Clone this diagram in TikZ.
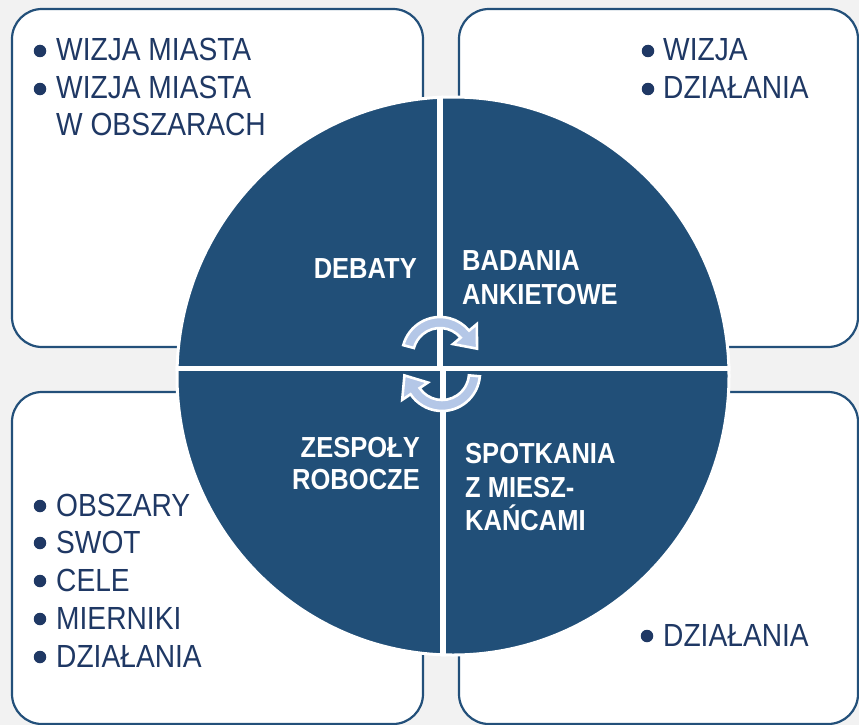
\documentclass[tikz,border=0pt]{standalone}
\usepackage{fontspec}
\setmainfont{Liberation Sans}
\newfontfamily\narf[FakeStretch=0.88]{Liberation Sans}
\usetikzlibrary{calc}
\definecolor{bg}{HTML}{F2F2F2}
\definecolor{navy}{HTML}{1F3864}
\definecolor{pie}{HTML}{214F78}
\definecolor{boxline}{HTML}{23507A}
\definecolor{arrowblue}{HTML}{B4C7E7}
\begin{document}
\begin{tikzpicture}[x=1pt,y=-1pt,
  box/.style={draw=boxline, line width=2.2pt, fill=white, rounded corners=30pt},
  item/.style={anchor=base west, inner sep=0pt, text=navy, font=\narf\fontsize{32}{37}\selectfont},
  dot/.style={circle, fill=navy, inner sep=0pt, minimum size=12.5pt},
  lblw/.style={anchor=base west, inner sep=0pt, text=white, font=\narf\bfseries\fontsize{29}{34}\selectfont},
  lble/.style={anchor=base east, inner sep=0pt, text=white, font=\narf\bfseries\fontsize{29}{34}\selectfont},
  cyc/.style={fill=arrowblue, draw=white, line width=2.6pt, line join=miter}]
\fill[bg] (0,0) rectangle (859,725);
\useasboundingbox (0,0) rectangle (859,725);
% corner boxes
\draw[box] (12,9) rectangle (423,347);
\draw[box] (459,9) rectangle (858,347);
\draw[box] (12,392) rectangle (423,724);
\draw[box] (459,392) rectangle (858,724);
% circle
\draw[white, line width=3pt, fill=pie] (453,376) ellipse [x radius=276, y radius=279];
\begin{scope}
  \clip (453,376) ellipse [x radius=277.5, y radius=280.5];
  \fill[white] (436.5,80) rectangle (443,368);
  \fill[white] (439.5,368) rectangle (446,680);
  \fill[white] (160,366) rectangle (750,371);
\end{scope}
% cycle arrows
\coordinate (cu) at (440,355);
\coordinate (cl) at (442,373);
\filldraw[cyc]
  ($(cu)+(195:38)$) arc[start angle=195, end angle=320, radius=38]
  -- ($(cu)+(320:48)$)
  -- ($(cu)+(320:32.5)+(50:19)$)
  -- ($(cu)+(320:17)$)
  -- ($(cu)+(320:27)$)
  arc[start angle=320, end angle=195, radius=27] -- cycle;
\filldraw[cyc]
  ($(cl)+(5:38)$) arc[start angle=5, end angle=146, radius=38]
  -- ($(cl)+(146:48)$)
  -- ($(cl)+(146:32.5)+(236:19)$)
  -- ($(cl)+(146:17)$)
  -- ($(cl)+(146:27)$)
  arc[start angle=146, end angle=5, radius=27] -- cycle;
% circle labels
\node[lble] (debaty) at (417,278) {DEBATY};
\node[lblw] (bad1) at (462,270) {BADANIA};
\node[lblw] (bad2) at (462,304) {ANKIETOWE};
\node[lble] (zes1) at (420,457) {ZESPOŁY};
\node[lble] (zes2) at (420,489) {ROBOCZE};
\node[lblw] (spo1) at (465,463) {SPOTKANIA};
\node[lblw] (spo2) at (465,497) {Z MIESZ-};
\node[lblw] (spo3) at (465,530) {KAŃCAMI};
% top-left list
\node[dot] (b1) at (40,51) {};
\node[item] (t1) at (56,61) {WIZJA MIASTA};
\node[dot] (b2) at (40,89) {};
\node[item] (t2) at (56,99) {WIZJA MIASTA};
\node[item] (t3) at (56,135) {W OBSZARACH};
% top-right list
\node[dot] (b3) at (648,51) {};
\node[item] (t4) at (663,61) {WIZJA};
\node[dot] (b4) at (648,89) {};
\node[item] (t5) at (663,99) {DZIAŁANIA};
% bottom-left list
\node[dot] (b5) at (40,506) {};
\node[item] (t6) at (56,516) {OBSZARY};
\node[dot] (b6) at (40,543) {};
\node[item] (t7) at (56,553) {SWOT};
\node[dot] (b7) at (40,581) {};
\node[item] (t8) at (56,591) {CELE};
\node[dot] (b8) at (40,619) {};
\node[item] (t9) at (56,629) {MIERNIKI};
\node[dot] (b9) at (40,657) {};
\node[item] (t10) at (56,667) {DZIAŁANIA};
% bottom-right list
\node[dot] (b10) at (647,636) {};
\node[item] (t11) at (663,646) {DZIAŁANIA};
\end{tikzpicture}
\end{document}
